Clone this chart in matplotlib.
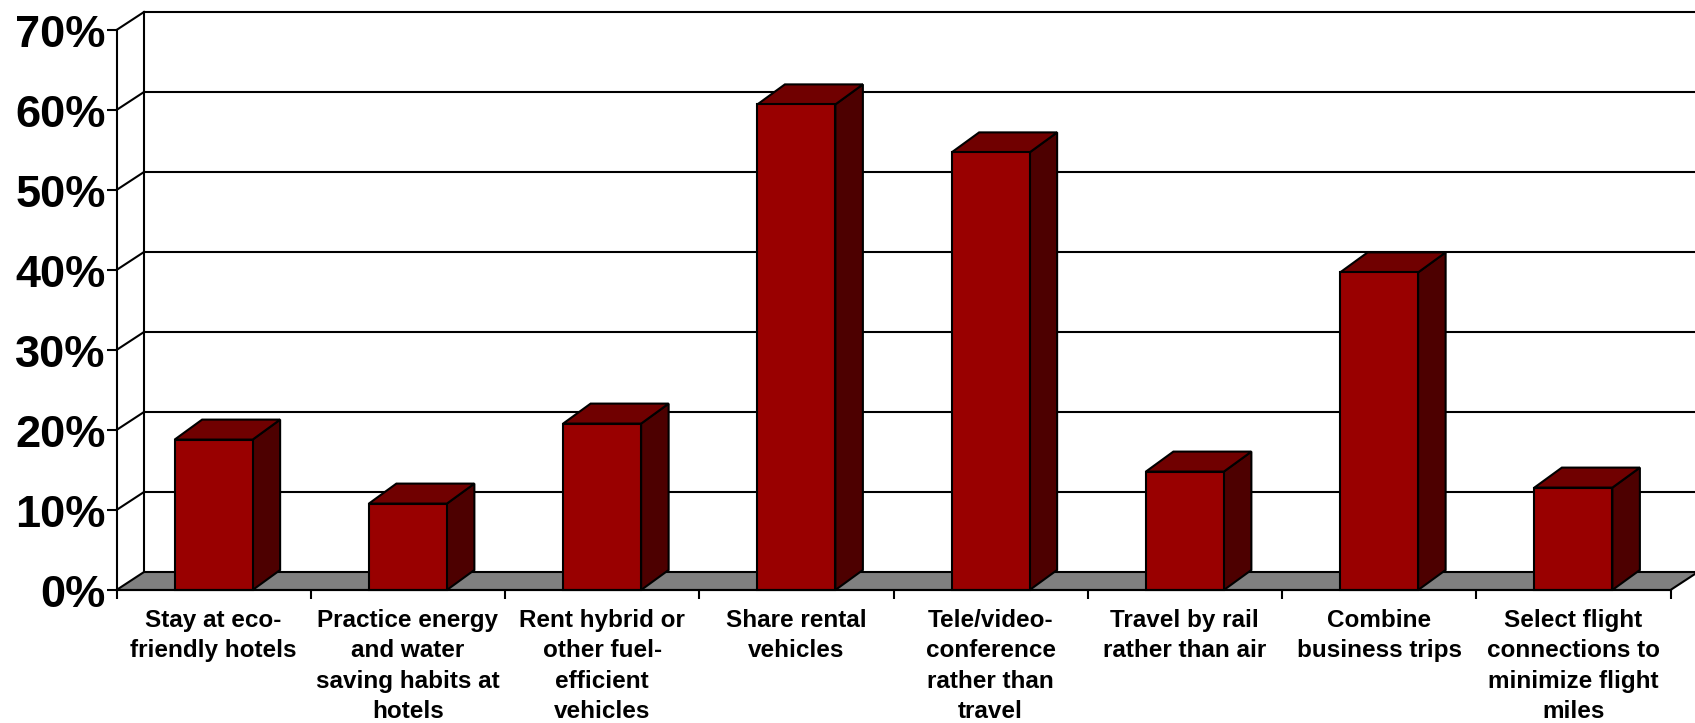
import matplotlib
matplotlib.use("Agg")
import matplotlib.pyplot as plt
from matplotlib.patches import Polygon
from matplotlib.transforms import ScaledTranslation

categories = [
    "Stay at eco-\nfriendly hotels",
    "Practice energy\nand water\nsaving habits at\nhotels",
    "Rent hybrid or\nother fuel-\nefficient\nvehicles",
    "Share rental\nvehicles",
    "Tele/video-\nconference\nrather than\ntravel",
    "Travel by rail\nrather than air",
    "Combine\nbusiness trips",
    "Select flight\nconnections to\nminimize flight\nmiles",
]
values = [18.8, 10.8, 20.8, 60.7, 54.7, 14.8, 39.7, 12.8]
y_ticks = [0, 10, 20, 30, 40, 50, 60, 70]

W, H = 1695, 723
plt.rcParams["font.family"] = ["Liberation Sans", "DejaVu Sans"]
plt.rcParams["font.weight"] = "bold"
fig = plt.figure(figsize=(W / 100, H / 100), dpi=100, facecolor="white")
ax = fig.add_axes([116.5 / W, (H - 590) / H, 1554 / W, 560 / H])
ax.set_xlim(0, len(categories))
ax.set_ylim(0, 70)
ax.patch.set_visible(False)

LW = 1.5
DX = 27.5 / (1554 / 8)
DY = 18 / 8
BDX = DX
BDY = 20 / 8
BW = 78 / (1554 / 8)
n = len(categories)

def poly(pts, fc, z, lw=LW):
    ax.add_patch(Polygon(pts, closed=True, facecolor=fc, edgecolor="black",
                         linewidth=lw, zorder=z, clip_on=False, joinstyle="miter"))

# floor
poly([(0, 0), (DX, DY), (n + DX, DY), (n, 0)], "#808080", 2)
# back wall and gridlines
ax.plot([DX, DX], [DY, 70 + DY], color="black", lw=LW, zorder=1, clip_on=False)
for v in y_ticks[1:]:
    ax.plot([DX, n + DX], [v + DY, v + DY], color="black", lw=LW, zorder=1, clip_on=False)
    ax.plot([0, DX], [v, v + DY], color="black", lw=LW, zorder=1, clip_on=False)

# bars
for i, v in enumerate(values):
    l = i + 0.5 - BW / 2
    r = l + BW
    poly([(r, 0), (r + BDX, BDY), (r + BDX, v + BDY), (r, v)], "#4d0000", 3)
    poly([(l, v), (l + BDX, v + BDY), (r + BDX, v + BDY), (r, v)], "#700000", 3)
    poly([(l, 0), (l, v), (r, v), (r, 0)], "#990000", 4)

for s in ("top", "right"):
    ax.spines[s].set_visible(False)
for s in ("left", "bottom"):
    ax.spines[s].set_linewidth(LW)
    ax.spines[s].set_zorder(5)

ax.set_yticks(y_ticks)
ax.set_yticklabels([f"{v}%" for v in y_ticks], fontsize=32.5, fontweight="bold")
ax.tick_params(axis="y", length=7.2, width=LW, pad=0.5)
shift = ScaledTranslation(0, -1 / 100, fig.dpi_scale_trans)
for lab in ax.get_yticklabels():
    lab.set_transform(lab.get_transform() + shift)

ax.set_xticks(range(n + 1))
ax.set_xticklabels([])
ax.tick_params(axis="x", which="major", length=6.5, width=LW)
ax.set_xticks([i + 0.5 for i in range(n)], minor=True)
ax.set_xticklabels(categories, minor=True, fontsize=17.5, fontweight="bold", linespacing=1.42)
ax.tick_params(axis="x", which="minor", length=0, pad=13.5)

fig.savefig("out.png", dpi=100)
